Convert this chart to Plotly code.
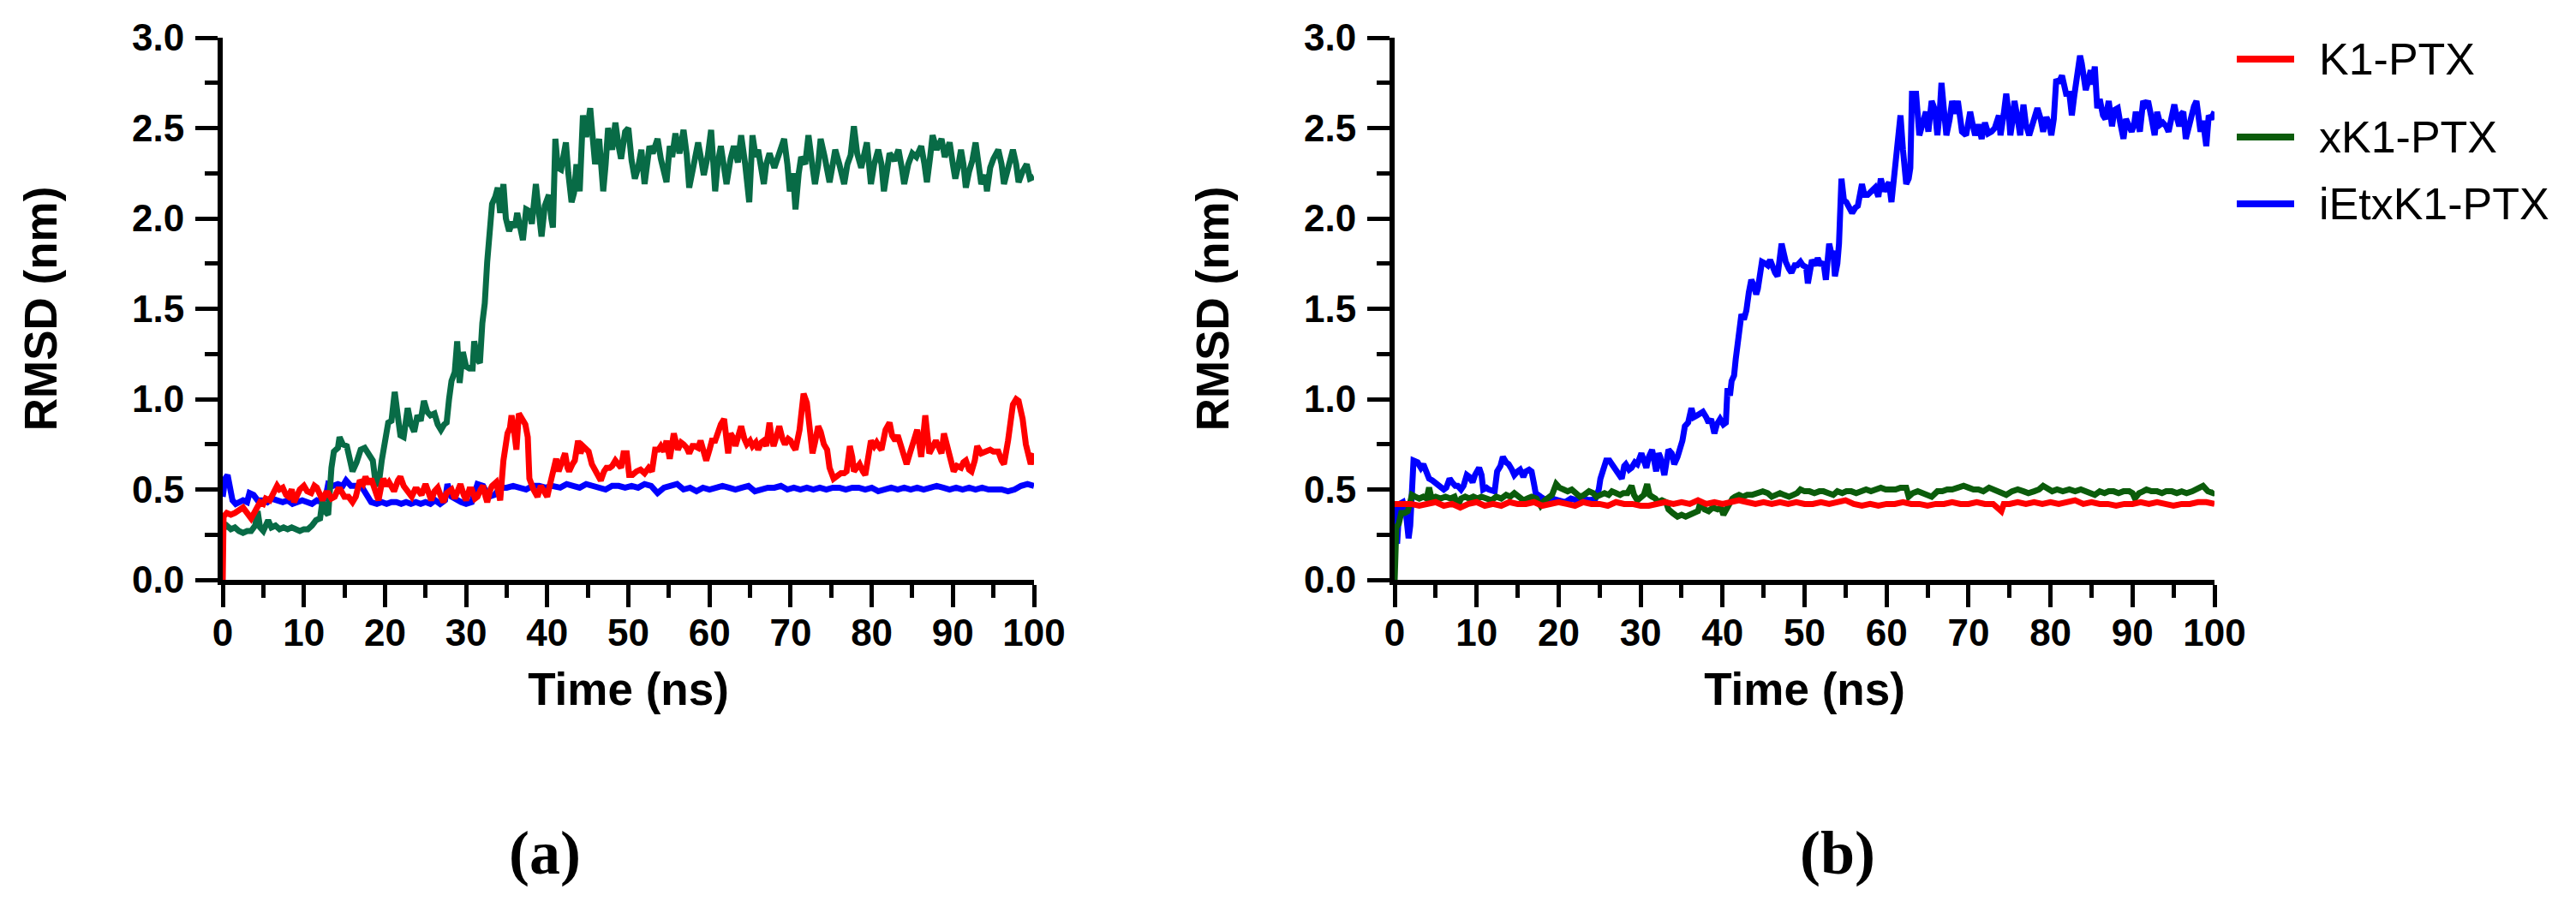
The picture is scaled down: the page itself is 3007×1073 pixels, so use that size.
import plotly.graph_objects as go

# ---------------- data ----------------
# Panel (a)
a_xk1_t = [0,0.5,1,1.5,2,2.5,3,3.5,4,4.3,4.6,5,5.6,6,6.5,7,7.5,8,8.5,9,9.5,10,10.5,11,11.5,12,12.3,12.6,13,13.4,13.7,14.2,14.4,14.8,15.3,15.7,16,16.5,17,17.5,18,18.5,18.8,19.2,19.6,20,20.4,20.8,21.2,21.6,21.9,22.3,22.8,23.2,23.6,24,24.4,24.8,25.2,25.6,26.1,26.5,26.9,27.3,27.6,27.9,28.2,28.6,28.9,29.2,29.6,30,30.4,30.8,31,31.4,31.7,32,32.3,32.6,32.9,33.2,33.6,33.9,34.2,34.6,34.9,35.3,35.7,36,36.3,36.7,37,37.4,37.8,38.1,38.6,39,39.3,39.7,40.2,40.5,40.7,41,41.3,41.7,42,42.3,42.6,43,43.3,43.6,44,44.4,44.8,45.3,45.6,45.9,46.4,46.9,47.2,47.5,48,48.4,48.8,49.1,49.6,50,50.4,50.8,51.2,51.6,52,52.6,53,53.6,54,54.7,55.1,55.4,55.8,56.3,56.8,57.2,57.5,58,58.6,59,59.3,59.8,60.2,60.7,61,61.4,61.8,62.1,62.6,63,63.5,63.9,64.4,64.9,65.3,65.7,66,66.4,66.7,67,67.4,68,68.5,69.2,69.6,69.9,70.3,70.6,71,71.3,71.8,72.2,72.6,73,73.4,73.7,74.2,74.8,75.2,75.5,76,76.6,77,77.4,77.8,78.2,78.7,79,79.4,79.9,80.3,80.8,81.2,81.5,82,82.2,82.8,83.3,83.7,84,84.5,85,85.5,86.1,86.5,86.8,87.2,87.5,88,88.6,89,89.6,90,90.3,90.7,91,91.3,91.6,92,92.4,92.8,93.2,93.5,94,94.2,94.6,95,95.6,96,96.3,96.8,97.4,97.8,98.1,98.6,99.1,99.5,100]
a_xk1_v = [0.28,0.30,0.28,0.29,0.27,0.26,0.27,0.27,0.30,0.38,0.29,0.27,0.33,0.29,0.30,0.28,0.29,0.28,0.29,0.28,0.27,0.28,0.28,0.30,0.33,0.34,0.44,0.38,0.36,0.62,0.71,0.73,0.79,0.75,0.74,0.66,0.60,0.65,0.72,0.73,0.70,0.66,0.55,0.52,0.66,0.78,0.87,0.88,1.04,0.90,0.80,0.79,0.95,0.86,0.82,0.91,0.88,0.99,0.93,0.91,0.92,0.86,0.83,0.86,0.87,1.00,1.10,1.15,1.32,1.09,1.26,1.18,1.17,1.17,1.32,1.22,1.20,1.42,1.53,1.76,1.95,2.08,2.12,2.17,2.03,2.19,2.00,1.93,1.98,1.95,2.03,1.96,1.88,2.05,2.04,1.97,2.19,2.02,1.90,2.07,2.13,2.00,1.95,2.44,2.28,2.27,2.35,2.42,2.25,2.09,2.14,2.30,2.15,2.57,2.45,2.61,2.45,2.30,2.44,2.15,2.30,2.50,2.38,2.53,2.40,2.33,2.48,2.50,2.32,2.22,2.28,2.38,2.19,2.40,2.36,2.44,2.33,2.20,2.40,2.34,2.47,2.36,2.49,2.35,2.17,2.30,2.42,2.32,2.24,2.35,2.49,2.15,2.30,2.40,2.30,2.19,2.33,2.40,2.31,2.46,2.30,2.09,2.46,2.34,2.38,2.28,2.19,2.30,2.36,2.28,2.34,2.44,2.30,2.15,2.25,2.05,2.25,2.34,2.30,2.46,2.32,2.19,2.30,2.44,2.34,2.20,2.30,2.38,2.30,2.19,2.30,2.35,2.51,2.36,2.28,2.36,2.42,2.19,2.30,2.38,2.30,2.15,2.28,2.36,2.32,2.38,2.28,2.19,2.30,2.36,2.34,2.40,2.30,2.20,2.34,2.46,2.38,2.44,2.34,2.42,2.30,2.22,2.30,2.38,2.30,2.17,2.26,2.32,2.42,2.30,2.19,2.24,2.15,2.28,2.33,2.38,2.30,2.19,2.28,2.38,2.30,2.20,2.26,2.30,2.22,2.23]

a_k1_t = [0,0.1,0.5,1,1.5,2,2.5,3,3.5,4,4.6,5,5.3,5.8,6.2,6.7,7,7.4,7.8,8.1,8.5,8.8,9.2,9.5,10,10.4,10.9,11.3,11.6,12,12.3,12.7,13,13.4,13.8,14.2,14.5,15,15.5,16,16.4,16.9,17.3,17.6,18,18.3,18.8,19.2,19.5,19.8,20.2,20.5,21,21.2,21.6,21.9,22.3,22.6,23,23.3,23.7,24,24.5,25,25.4,25.7,26.1,26.5,26.9,27.2,27.6,28.2,28.6,29,29.3,29.7,30,30.4,30.7,31.1,31.4,31.8,32.1,32.4,32.6,33,33.2,33.7,34,34.2,34.6,35.1,35.4,35.6,35.9,36.2,36.5,37,37.3,37.6,37.8,38.3,38.8,39.2,39.5,40,40.3,40.6,41.1,41.4,41.6,42.2,42.5,42.7,43.1,43.4,43.8,44.1,44.4,44.8,45.1,45.5,45.9,46.3,46.6,47,47.3,47.7,48,48.4,48.7,49.1,49.4,49.8,50.1,50.5,51,51.5,52,52.5,52.9,53.3,53.7,54,54.4,54.7,55.1,55.6,56.1,56.5,56.8,57.2,57.5,57.9,58.2,58.6,58.9,59.3,59.6,60,60.3,60.7,61,61.4,61.8,62,62.3,62.6,63,63.2,63.6,63.9,64.3,64.6,65,65.3,65.7,66,66.4,66.7,67,67.4,67.6,67.9,68.3,68.6,69,69.3,69.7,70,70.3,70.6,71.1,71.4,71.6,72,72.2,72.5,72.7,73,73.4,73.7,74.1,74.5,74.8,75.3,75.8,76.2,76.6,76.9,77.3,77.6,77.8,78.2,78.5,78.9,79.2,79.5,79.9,80.3,80.6,81,81.2,81.7,82.2,82.5,82.9,83.2,83.6,84,84.3,84.7,85,85.3,85.6,86.1,86.4,86.6,87.1,87.5,87.9,88.2,88.6,88.9,89.3,89.6,90.1,90.5,91,91.3,91.6,92,92.3,92.7,93,93.5,94,94.6,95,95.6,96,96.3,96.8,97.1,97.4,97.8,98.1,98.4,98.6,99,99.3,99.6,100]
a_k1_v = [0.00,0.35,0.37,0.36,0.37,0.39,0.40,0.37,0.34,0.38,0.43,0.42,0.45,0.44,0.47,0.52,0.50,0.51,0.47,0.46,0.50,0.43,0.47,0.50,0.52,0.49,0.48,0.52,0.51,0.46,0.44,0.48,0.48,0.45,0.46,0.50,0.50,0.46,0.46,0.43,0.46,0.55,0.53,0.57,0.53,0.56,0.48,0.44,0.51,0.56,0.52,0.54,0.50,0.50,0.55,0.57,0.52,0.50,0.48,0.46,0.50,0.50,0.47,0.53,0.48,0.44,0.49,0.51,0.46,0.43,0.48,0.50,0.45,0.49,0.53,0.47,0.44,0.50,0.50,0.45,0.46,0.50,0.52,0.46,0.43,0.50,0.52,0.54,0.48,0.44,0.66,0.81,0.84,0.91,0.83,0.72,0.92,0.89,0.86,0.79,0.56,0.50,0.46,0.52,0.50,0.46,0.52,0.58,0.67,0.60,0.62,0.70,0.62,0.60,0.64,0.66,0.77,0.70,0.74,0.72,0.71,0.64,0.60,0.56,0.55,0.60,0.62,0.62,0.63,0.66,0.64,0.62,0.70,0.70,0.58,0.58,0.60,0.61,0.59,0.62,0.60,0.72,0.72,0.74,0.71,0.77,0.67,0.81,0.72,0.76,0.75,0.73,0.70,0.74,0.74,0.73,0.77,0.70,0.66,0.72,0.77,0.77,0.81,0.86,0.89,0.80,0.70,0.81,0.78,0.74,0.82,0.85,0.78,0.75,0.77,0.74,0.76,0.72,0.76,0.77,0.74,0.87,0.80,0.74,0.80,0.85,0.78,0.75,0.78,0.77,0.74,0.72,0.83,0.95,1.03,0.98,0.89,0.78,0.70,0.76,0.85,0.82,0.75,0.72,0.62,0.56,0.58,0.59,0.59,0.60,0.74,0.68,0.60,0.62,0.64,0.60,0.58,0.66,0.77,0.74,0.76,0.73,0.72,0.83,0.87,0.80,0.77,0.80,0.75,0.69,0.64,0.70,0.75,0.77,0.83,0.68,0.80,0.91,0.70,0.74,0.77,0.74,0.70,0.81,0.74,0.70,0.60,0.63,0.62,0.65,0.66,0.61,0.60,0.66,0.74,0.70,0.71,0.72,0.71,0.71,0.66,0.64,0.77,0.88,0.97,1.00,0.99,0.93,0.89,0.75,0.68,0.64,0.70]

a_ietx_t = [0,0.3,0.6,0.9,1.2,1.6,2,2.5,3,3.3,3.8,4.3,5,5.5,6,6.7,7.4,8,8.6,9.2,9.8,10.4,11,11.6,12.2,12.7,13,13.6,14.2,14.8,15.2,15.8,16.6,17.2,17.8,18.3,19,19.6,20.2,20.8,21.4,22,22.6,23.2,23.8,24.4,25,25.6,26.2,26.8,27.4,27.7,28.2,28.8,29.4,30,30.7,31.4,32.1,32.8,33.5,34.2,35,35.8,36.6,37.4,38.2,39,39.8,40.6,41.6,42.4,43.2,44,44.8,45.6,46.4,47.2,48,48.8,49.6,50.4,51.2,52,52.8,53.6,54.4,55.2,56,56.8,57.6,58.4,59.2,60,60.8,61.6,62.4,63.2,64,64.8,65.6,66.4,67.2,68,68.8,69.6,70.4,71.2,72,72.8,73.6,74.4,75.2,76,76.8,77.6,78.4,79.2,80,80.8,81.6,82.4,83.2,84,84.8,85.6,86.4,87.2,88,88.8,89.6,90.4,91.2,92,92.8,93.6,94.4,95.2,96,96.8,97.6,98.4,99.2,100]
a_ietx_v = [0.46,0.56,0.58,0.50,0.44,0.42,0.43,0.44,0.43,0.48,0.47,0.44,0.44,0.43,0.45,0.44,0.43,0.44,0.42,0.43,0.44,0.43,0.42,0.44,0.43,0.46,0.53,0.52,0.53,0.52,0.55,0.52,0.52,0.51,0.47,0.43,0.42,0.43,0.42,0.43,0.43,0.42,0.43,0.42,0.43,0.42,0.43,0.42,0.44,0.42,0.44,0.53,0.46,0.44,0.43,0.42,0.43,0.53,0.52,0.46,0.47,0.51,0.51,0.52,0.51,0.50,0.52,0.52,0.51,0.52,0.51,0.53,0.52,0.51,0.53,0.52,0.51,0.50,0.52,0.52,0.51,0.52,0.51,0.53,0.52,0.48,0.51,0.52,0.53,0.50,0.51,0.49,0.51,0.50,0.51,0.52,0.51,0.50,0.51,0.52,0.49,0.50,0.51,0.51,0.52,0.50,0.51,0.50,0.51,0.50,0.51,0.50,0.51,0.51,0.50,0.51,0.51,0.50,0.51,0.49,0.50,0.51,0.50,0.51,0.50,0.51,0.50,0.51,0.52,0.51,0.50,0.51,0.50,0.51,0.50,0.51,0.50,0.50,0.50,0.49,0.50,0.52,0.53,0.52]

# Panel (b)
b_ietx_t = [0,0.3,0.6,1,1.4,1.7,1.9,2.1,2.3,2.8,3.2,3.5,3.9,4.2,4.6,4.9,5.3,5.6,6,6.3,6.7,7,7.4,7.7,8.1,8.4,8.8,9.1,9.5,9.8,10.3,10.6,10.8,11.2,11.5,12.2,12.5,12.9,13.2,13.6,13.9,14.3,14.6,15,15.3,15.7,16,16.4,16.7,17,17.2,17.8,18.5,19.2,20,20.8,21.5,22.2,23,23.8,24.5,24.9,25.1,25.5,25.8,26.2,26.5,26.9,27.2,27.7,28,28.2,28.6,28.9,29.3,29.6,30.1,30.4,30.7,31,31.4,31.7,31.9,32.2,32.4,32.9,33.2,33.4,33.8,34.1,34.5,34.8,35.1,35.4,35.8,36.2,36.5,36.9,37.3,37.6,38,38.3,38.6,39,39.3,39.7,40.1,40.4,40.6,40.9,41.1,41.4,41.6,42,42.3,42.6,42.9,43.2,43.5,43.8,44.1,44.3,44.6,44.8,45.2,45.5,45.8,46,46.4,46.7,47,47.2,47.5,47.7,48.1,48.4,48.8,49.1,49.5,49.8,50.2,50.4,50.9,51.3,51.6,52,52.3,52.6,53,53.3,53.5,53.7,54,54.2,54.5,54.8,55.1,55.5,55.8,56.2,56.5,57,57.3,57.7,58.1,58.6,59,59.3,59.7,60,60.3,60.6,61,61.3,61.7,62,62.2,62.4,62.7,62.9,63.1,63.6,64,64.3,64.5,64.8,65.1,65.5,65.9,66.2,66.5,66.7,67,67.3,67.7,68,68.4,68.7,69,69.2,69.7,70,70.2,70.5,70.8,71.2,71.6,72,72.4,72.8,73.2,73.7,73.9,74.3,74.6,74.9,75.1,75.4,75.6,76,76.3,76.7,77,77.4,77.8,78.1,78.4,78.8,79.1,79.5,79.8,80.1,80.4,80.7,81,81.4,81.7,81.9,82.3,82.6,82.9,83.1,83.4,83.6,83.8,84,84.3,84.6,84.9,85.1,85.4,85.7,86,86.4,86.7,87.1,87.5,87.8,88.2,88.5,88.9,89.2,89.6,89.9,90.2,90.4,90.9,91.3,91.6,91.9,92.3,92.7,93,93.4,93.7,94.1,94.4,94.8,95.1,95.4,95.7,96,96.2,96.5,96.8,97.1,97.5,97.8,98,98.3,98.6,99,99.3,99.6,100]
b_ietx_v = [0.42,0.20,0.42,0.43,0.36,0.23,0.30,0.55,0.66,0.65,0.62,0.64,0.58,0.56,0.55,0.54,0.53,0.52,0.50,0.51,0.56,0.54,0.52,0.52,0.50,0.52,0.58,0.57,0.54,0.58,0.62,0.58,0.50,0.51,0.50,0.49,0.60,0.63,0.68,0.65,0.64,0.61,0.58,0.60,0.61,0.57,0.60,0.61,0.60,0.53,0.48,0.46,0.44,0.45,0.44,0.43,0.45,0.44,0.45,0.44,0.45,0.50,0.56,0.62,0.66,0.66,0.64,0.62,0.60,0.56,0.63,0.64,0.61,0.62,0.65,0.64,0.70,0.66,0.62,0.68,0.72,0.65,0.60,0.70,0.68,0.58,0.68,0.72,0.70,0.64,0.68,0.72,0.77,0.85,0.87,0.95,0.90,0.91,0.92,0.93,0.90,0.87,0.89,0.81,0.86,0.89,0.86,0.87,1.06,1.02,1.10,1.13,1.22,1.35,1.47,1.44,1.49,1.59,1.66,1.63,1.58,1.61,1.72,1.76,1.75,1.74,1.77,1.74,1.70,1.68,1.78,1.86,1.80,1.76,1.72,1.70,1.74,1.74,1.76,1.74,1.73,1.64,1.77,1.74,1.78,1.74,1.76,1.66,1.86,1.80,1.82,1.68,1.75,1.86,2.22,2.10,2.09,2.05,2.03,2.06,2.07,2.19,2.13,2.13,2.15,2.17,2.12,2.22,2.15,2.17,2.20,2.09,2.24,2.36,2.57,2.38,2.25,2.19,2.22,2.28,2.69,2.69,2.46,2.50,2.53,2.59,2.48,2.65,2.60,2.46,2.60,2.75,2.60,2.46,2.55,2.65,2.58,2.65,2.55,2.48,2.46,2.52,2.59,2.52,2.46,2.52,2.44,2.53,2.47,2.48,2.50,2.57,2.46,2.58,2.69,2.58,2.46,2.55,2.65,2.55,2.46,2.63,2.52,2.46,2.52,2.58,2.61,2.55,2.48,2.56,2.53,2.46,2.55,2.77,2.75,2.79,2.72,2.69,2.69,2.57,2.68,2.75,2.80,2.90,2.86,2.80,2.71,2.76,2.82,2.74,2.84,2.61,2.66,2.57,2.55,2.65,2.51,2.60,2.61,2.53,2.44,2.55,2.51,2.48,2.52,2.59,2.48,2.65,2.63,2.65,2.56,2.46,2.59,2.52,2.53,2.51,2.48,2.58,2.63,2.56,2.51,2.58,2.59,2.44,2.50,2.57,2.62,2.65,2.60,2.48,2.54,2.40,2.57,2.55,2.59]

b_xk1_t = [0,0.2,0.5,0.8,1.2,1.6,1.9,2.1,2.5,3,3.5,3.9,4.2,4.5,5,5.6,6.2,6.8,7.3,7.7,8.1,8.6,9.1,9.6,10.1,10.6,11.2,11.8,12.4,13,13.6,14.1,14.6,15.2,15.7,16.2,16.7,17.3,17.8,18.3,18.8,19.2,19.7,20.1,20.6,21.1,21.6,22.1,22.6,23.1,23.7,24.2,24.6,25.1,25.6,26.1,26.5,27,27.5,27.9,28.4,28.9,29.2,29.6,30,30.4,30.8,31.1,31.4,31.8,32.1,32.6,33.1,33.4,33.9,34.5,35,35.5,36,36.6,37,37.3,37.8,38.3,38.8,39.4,39.8,40.1,40.5,40.8,41.2,41.5,42,42.5,43,43.6,44.2,44.9,45.5,46,46.5,47,47.5,48.1,48.6,49.1,49.5,50,50.6,51.2,51.8,52.3,52.9,53.5,54,54.6,55.1,55.7,56.3,56.9,57.5,58.1,58.7,59.3,59.9,60.5,61.1,61.7,62.4,62.7,63.2,63.8,64.4,65,65.5,66.2,66.8,67.4,68,68.7,69.4,70,70.6,71.2,71.8,72.5,73.1,73.8,74.6,75.3,76,76.7,77.3,78,78.6,79.1,79.7,80.2,80.8,81.5,82.3,83,83.7,84.4,85,85.4,86,86.6,87.1,87.7,88.3,88.9,89.6,90,90.3,90.8,91.3,91.7,92.3,93,93.6,94.1,94.8,95.4,96,96.6,97.3,97.9,98.6,99.2,99.8,100]
b_xk1_v = [0.00,0.29,0.31,0.37,0.37,0.38,0.43,0.47,0.46,0.45,0.46,0.45,0.51,0.45,0.46,0.45,0.46,0.45,0.46,0.41,0.45,0.46,0.45,0.46,0.45,0.46,0.45,0.44,0.46,0.45,0.47,0.46,0.48,0.46,0.44,0.45,0.46,0.45,0.41,0.44,0.46,0.47,0.53,0.51,0.50,0.49,0.50,0.48,0.46,0.47,0.49,0.48,0.46,0.47,0.48,0.47,0.49,0.48,0.47,0.48,0.48,0.52,0.47,0.44,0.46,0.47,0.53,0.47,0.46,0.45,0.43,0.44,0.43,0.39,0.37,0.35,0.36,0.35,0.36,0.37,0.38,0.43,0.39,0.38,0.40,0.39,0.40,0.36,0.40,0.42,0.45,0.46,0.47,0.46,0.47,0.47,0.48,0.49,0.48,0.46,0.47,0.48,0.47,0.46,0.47,0.48,0.50,0.49,0.49,0.48,0.49,0.49,0.48,0.47,0.49,0.48,0.49,0.49,0.48,0.49,0.50,0.49,0.50,0.51,0.50,0.50,0.50,0.51,0.51,0.46,0.48,0.49,0.48,0.47,0.46,0.49,0.49,0.50,0.50,0.51,0.52,0.51,0.50,0.50,0.49,0.51,0.50,0.49,0.47,0.49,0.50,0.49,0.48,0.49,0.50,0.52,0.50,0.49,0.50,0.49,0.50,0.49,0.50,0.49,0.48,0.47,0.49,0.48,0.49,0.49,0.48,0.49,0.49,0.48,0.45,0.48,0.49,0.50,0.49,0.49,0.48,0.49,0.49,0.48,0.49,0.48,0.49,0.50,0.52,0.49,0.48,0.49]

b_k1_t = [0,1,2,3,4,5,6,7,8,9,10,11,12,13,14,15,16,17,18,19,20,21,22,23,24,25,26,27,28,29,30,31,32,33,34,35,36,37,38,39,40,41,42,43,44,45,46,47,48,49,50,51,52,53,54,55,56,57,58,59,60,61,62,63,64,65,66,67,68,69,70,71,72,73,74,74.3,75,76,77,78,79,80,81,82,83,84,85,86,87,88,89,90,91,92,93,94,95,96,97,98,99,100]
b_k1_v = [0.42,0.42,0.42,0.41,0.42,0.43,0.41,0.42,0.40,0.42,0.43,0.41,0.42,0.41,0.43,0.42,0.42,0.43,0.41,0.42,0.43,0.42,0.41,0.43,0.42,0.42,0.41,0.43,0.42,0.42,0.41,0.41,0.42,0.43,0.42,0.43,0.42,0.44,0.42,0.43,0.42,0.43,0.44,0.43,0.42,0.43,0.42,0.43,0.42,0.43,0.42,0.42,0.43,0.42,0.43,0.44,0.42,0.41,0.42,0.41,0.42,0.42,0.43,0.42,0.42,0.41,0.42,0.42,0.43,0.42,0.42,0.43,0.42,0.42,0.38,0.42,0.42,0.43,0.42,0.43,0.42,0.43,0.42,0.43,0.44,0.42,0.43,0.42,0.42,0.41,0.42,0.42,0.43,0.42,0.43,0.42,0.41,0.42,0.42,0.43,0.43,0.42]

series_names = ["K1-PTX", "xK1-PTX", "iEtxK1-PTX"]
x_ticks = [0, 10, 20, 30, 40, 50, 60, 70, 80, 90, 100]
y_ticks = [0.0, 0.5, 1.0, 1.5, 2.0, 2.5, 3.0]
panel_labels = ["(a)", "(b)"]

# ---------------- styling ----------------
W, H = 3007, 1073
RED = "#FF0000"
BLUE = "#0000FF"
GREEN_A = "#086B46"
GREEN_B = "#0B5C0B"
LW = 7
SANS = "Liberation Sans"

fig = go.Figure()

def add(t, v, color, xa, ya, name):
    fig.add_trace(go.Scatter(x=t, y=v, mode="lines", name=name, showlegend=False,
                             line=dict(color=color, width=LW), xaxis=xa, yaxis=ya,
                             hoverinfo="skip"))

# panel (a): blue, green, red (red on top)
add(a_ietx_t, a_ietx_v, BLUE, "x", "y", series_names[2])
add(a_xk1_t, a_xk1_v, GREEN_A, "x", "y", series_names[1])
add(a_k1_t, a_k1_v, RED, "x", "y", series_names[0])
# panel (b)
add(b_ietx_t, b_ietx_v, BLUE, "x2", "y2", series_names[2])
add(b_xk1_t, b_xk1_v, GREEN_B, "x2", "y2", series_names[1])
add(b_k1_t, b_k1_v, RED, "x2", "y2", series_names[0])

def px_x(p):
    return p / W

def px_y(p):
    return 1 - p / H

ydom = [px_y(677), px_y(44)]
tickfont = dict(family=SANS, size=44, color="black", weight="bold")
titlefont = dict(family=SANS, size=53, color="black", weight="bold")

def xaxis_cfg(dom, anchor):
    return dict(domain=dom, anchor=anchor, range=[0, 100], tickmode="array",
                tickvals=x_ticks, ticktext=[str(v) for v in x_ticks],
                ticks="outside", ticklen=26, tickwidth=5, tickcolor="black",
                showline=True, linewidth=6, linecolor="black", mirror=False,
                showgrid=False, zeroline=False, tickfont=tickfont,
                ticklabelstandoff=-8, automargin=False,
                minor=dict(ticks="outside", dtick=5, tick0=0, ticklen=15,
                           tickwidth=5, tickcolor="black", showgrid=False),
                title=dict(text="Time (ns)", font=titlefont, standoff=26))

def yaxis_cfg(anchor):
    return dict(domain=ydom, anchor=anchor, range=[0, 3], tickmode="array",
                tickvals=y_ticks, ticktext=[f"{v:.1f}" for v in y_ticks],
                ticks="outside", ticklen=26, tickwidth=5, tickcolor="black",
                showline=True, linewidth=6, linecolor="black",
                showgrid=False, zeroline=False, tickfont=tickfont,
                ticklabelstandoff=4, automargin=False,
                minor=dict(ticks="outside", dtick=0.25, tick0=0, ticklen=15,
                           tickwidth=5, tickcolor="black", showgrid=False),
                title=dict(text="RMSD (nm)", font=titlefont, standoff=72))

fig.update_layout(
    width=W, height=H, autosize=False,
    margin=dict(l=0, r=0, t=0, b=0, pad=0, autoexpand=False),
    paper_bgcolor="white", plot_bgcolor="white",
    showlegend=False,
    xaxis=xaxis_cfg([px_x(260), px_x(1207)], "y"),
    yaxis=yaxis_cfg("x"),
    xaxis2=xaxis_cfg([px_x(1628), px_x(2585)], "y2"),
    yaxis2=yaxis_cfg("x2"),
)

# custom legend (line samples + labels)
legend_colors = [RED, GREEN_B, BLUE]
legend_rows = [69, 160, 238]
shapes = []
annotations = []
for name, col, row in zip(series_names, legend_colors, legend_rows):
    shapes.append(dict(type="line", xref="paper", yref="paper",
                       x0=px_x(2611), x1=px_x(2678), y0=px_y(row), y1=px_y(row),
                       line=dict(color=col, width=8)))
    annotations.append(dict(text=name, xref="paper", yref="paper",
                            x=px_x(2705), y=px_y(row), xanchor="left", yanchor="middle",
                            showarrow=False,
                            font=dict(family=SANS, size=52, color="black")))

# panel labels
for lab, cx in zip(panel_labels, [636, 2145]):
    annotations.append(dict(text=f"<b>{lab}</b>", xref="paper", yref="paper",
                            x=px_x(cx), y=px_y(996), xanchor="center", yanchor="middle",
                            showarrow=False,
                            font=dict(family="Liberation Serif", size=72, color="black")))

fig.update_layout(shapes=shapes, annotations=annotations)

fig.write_html("out.html")
